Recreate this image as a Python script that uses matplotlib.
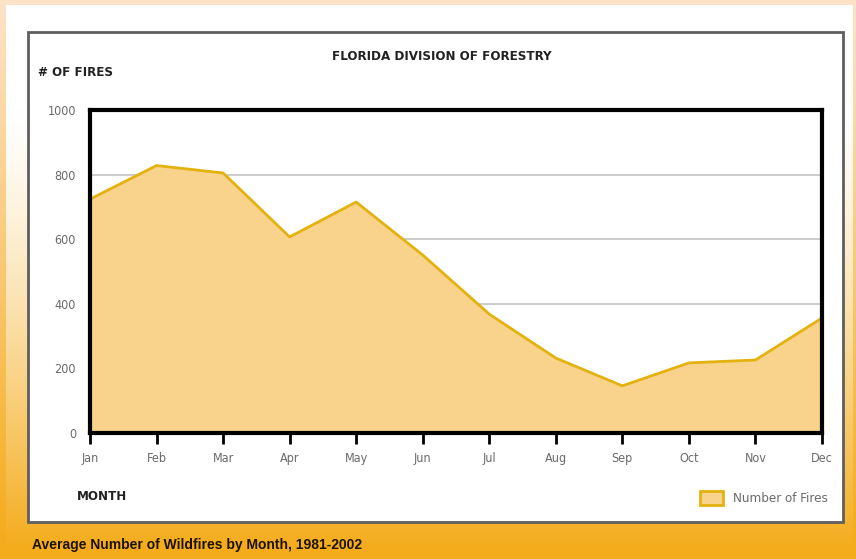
import numpy as np
import matplotlib
matplotlib.use("Agg")
import matplotlib.pyplot as plt
from matplotlib.patches import Rectangle, Patch
from matplotlib.font_manager import FontProperties

# Average number of wildfires per month, 1981-2002
months = ["Jan", "Feb", "Mar", "Apr", "May", "Jun",
          "Jul", "Aug", "Sep", "Oct", "Nov", "Dec"]
fires = [724, 828, 805, 607, 715, 551, 368, 232, 146, 217, 226, 356]
y_ticks = [0, 200, 400, 600, 800, 1000]
grid_levels = [400, 600, 800]

title = "FLORIDA DIVISION OF FORESTRY"
y_title = "# OF FIRES"
x_title = "MONTH"
series_name = "Number of Fires"
caption = "Average Number of Wildfires by Month, 1981-2002"

W, H = 856, 559


def narrow(size, bold=False):
    return FontProperties(family=["DejaVu Sans"], stretch="condensed",
                          weight="bold" if bold else "normal", size=size)


fill_color = "#F9D28C"
line_color = "#E4B20E"
label_gray = "#6a6a6a"

fig = plt.figure(figsize=(W / 100, H / 100), dpi=100)

# Page background: pale peach edge, panel fading from white to orange
bg = fig.add_axes([0, 0, 1, 1], zorder=-10)
bg.set_axis_off()
rows = np.arange(H)[:, None]
cols = np.arange(W)[None, :]
white = np.array([1.0, 1.0, 1.0])
peach = np.array([253, 228, 200]) / 255
orange = np.array([244, 172, 28]) / 255
t_panel = np.clip((rows - 110) / (548 - 110), 0, 1) ** 1.3
t_edge = np.clip(rows / 540, 0, 1)
panel = white * (1 - t_panel[..., None]) + orange * t_panel[..., None]
edge = peach * (1 - t_edge[..., None]) + orange * t_edge[..., None]
img = np.broadcast_to(panel, (H, W, 3)).copy()
edge_mask = (cols < 6) | (rows < 5) | (cols > 852)
edge_mask = np.broadcast_to(edge_mask, (H, W))
img[edge_mask] = np.broadcast_to(edge, (H, W, 3))[edge_mask]
bg.imshow(img, extent=[0, 1, 0, 1], aspect="auto", interpolation="bilinear")

# White chart card with grey frame
fig.patches.append(Rectangle((28 / W, 1 - 522 / H), (843 - 28) / W, (522 - 32) / H,
                             transform=fig.transFigure, facecolor="white",
                             edgecolor="#5e5e5e", linewidth=2, zorder=-5))

ax = fig.add_axes([90 / W, 1 - 433 / H, (822 - 90) / W, (433 - 110) / H])
x = np.arange(len(months))
ax.set_xlim(0, len(months) - 1)
ax.set_ylim(0, 1000)

ax.hlines(grid_levels, 0, len(months) - 1, colors="#c4c4c4", linewidth=1.2, zorder=1)
ax.fill_between(x, fires, 0, color=fill_color, linewidth=0, zorder=2)
ax.plot(x, fires, color=line_color, linewidth=2, zorder=3)

for s in ax.spines.values():
    s.set_linewidth(3)
    s.set_color("black")
    s.set_zorder(5)

ax.set_xticks(x)
ax.set_xticklabels(months, fontproperties=narrow(9), color=label_gray)
ax.set_yticks(y_ticks)
ax.set_yticklabels([str(v) for v in y_ticks], fontproperties=narrow(9),
                   color=label_gray)
ax.tick_params(axis="x", direction="out", length=8, width=2, color="black", pad=6)
ax.tick_params(axis="y", length=0, pad=10)

fig.text(442 / W, 1 - 57 / H, title, ha="center", va="center",
         fontproperties=narrow(9.5, bold=True), color="#222222")
fig.text(38 / W, 1 - 73 / H, y_title, ha="left", va="center",
         fontproperties=narrow(9.5, bold=True), color="#222222")
fig.text(77 / W, 1 - 497 / H, x_title, ha="left", va="center",
         fontproperties=narrow(9.5, bold=True), color="#222222")

fig.legend(handles=[Patch(facecolor=fill_color, edgecolor=line_color, linewidth=2)],
           labels=[series_name], loc="center right",
           bbox_to_anchor=(840 / W, 1 - 498 / H), frameon=False,
           handlelength=1.7, handleheight=1.3, handletextpad=0.8,
           prop=narrow(9.5), labelcolor=label_gray)

fig.text(32 / W, 1 - 545 / H, caption, ha="left", va="center",
         fontfamily=["Liberation Sans", "DejaVu Sans"], fontweight="bold",
         fontsize=10, color="#1c1400")

fig.savefig("out.png", dpi=100)
